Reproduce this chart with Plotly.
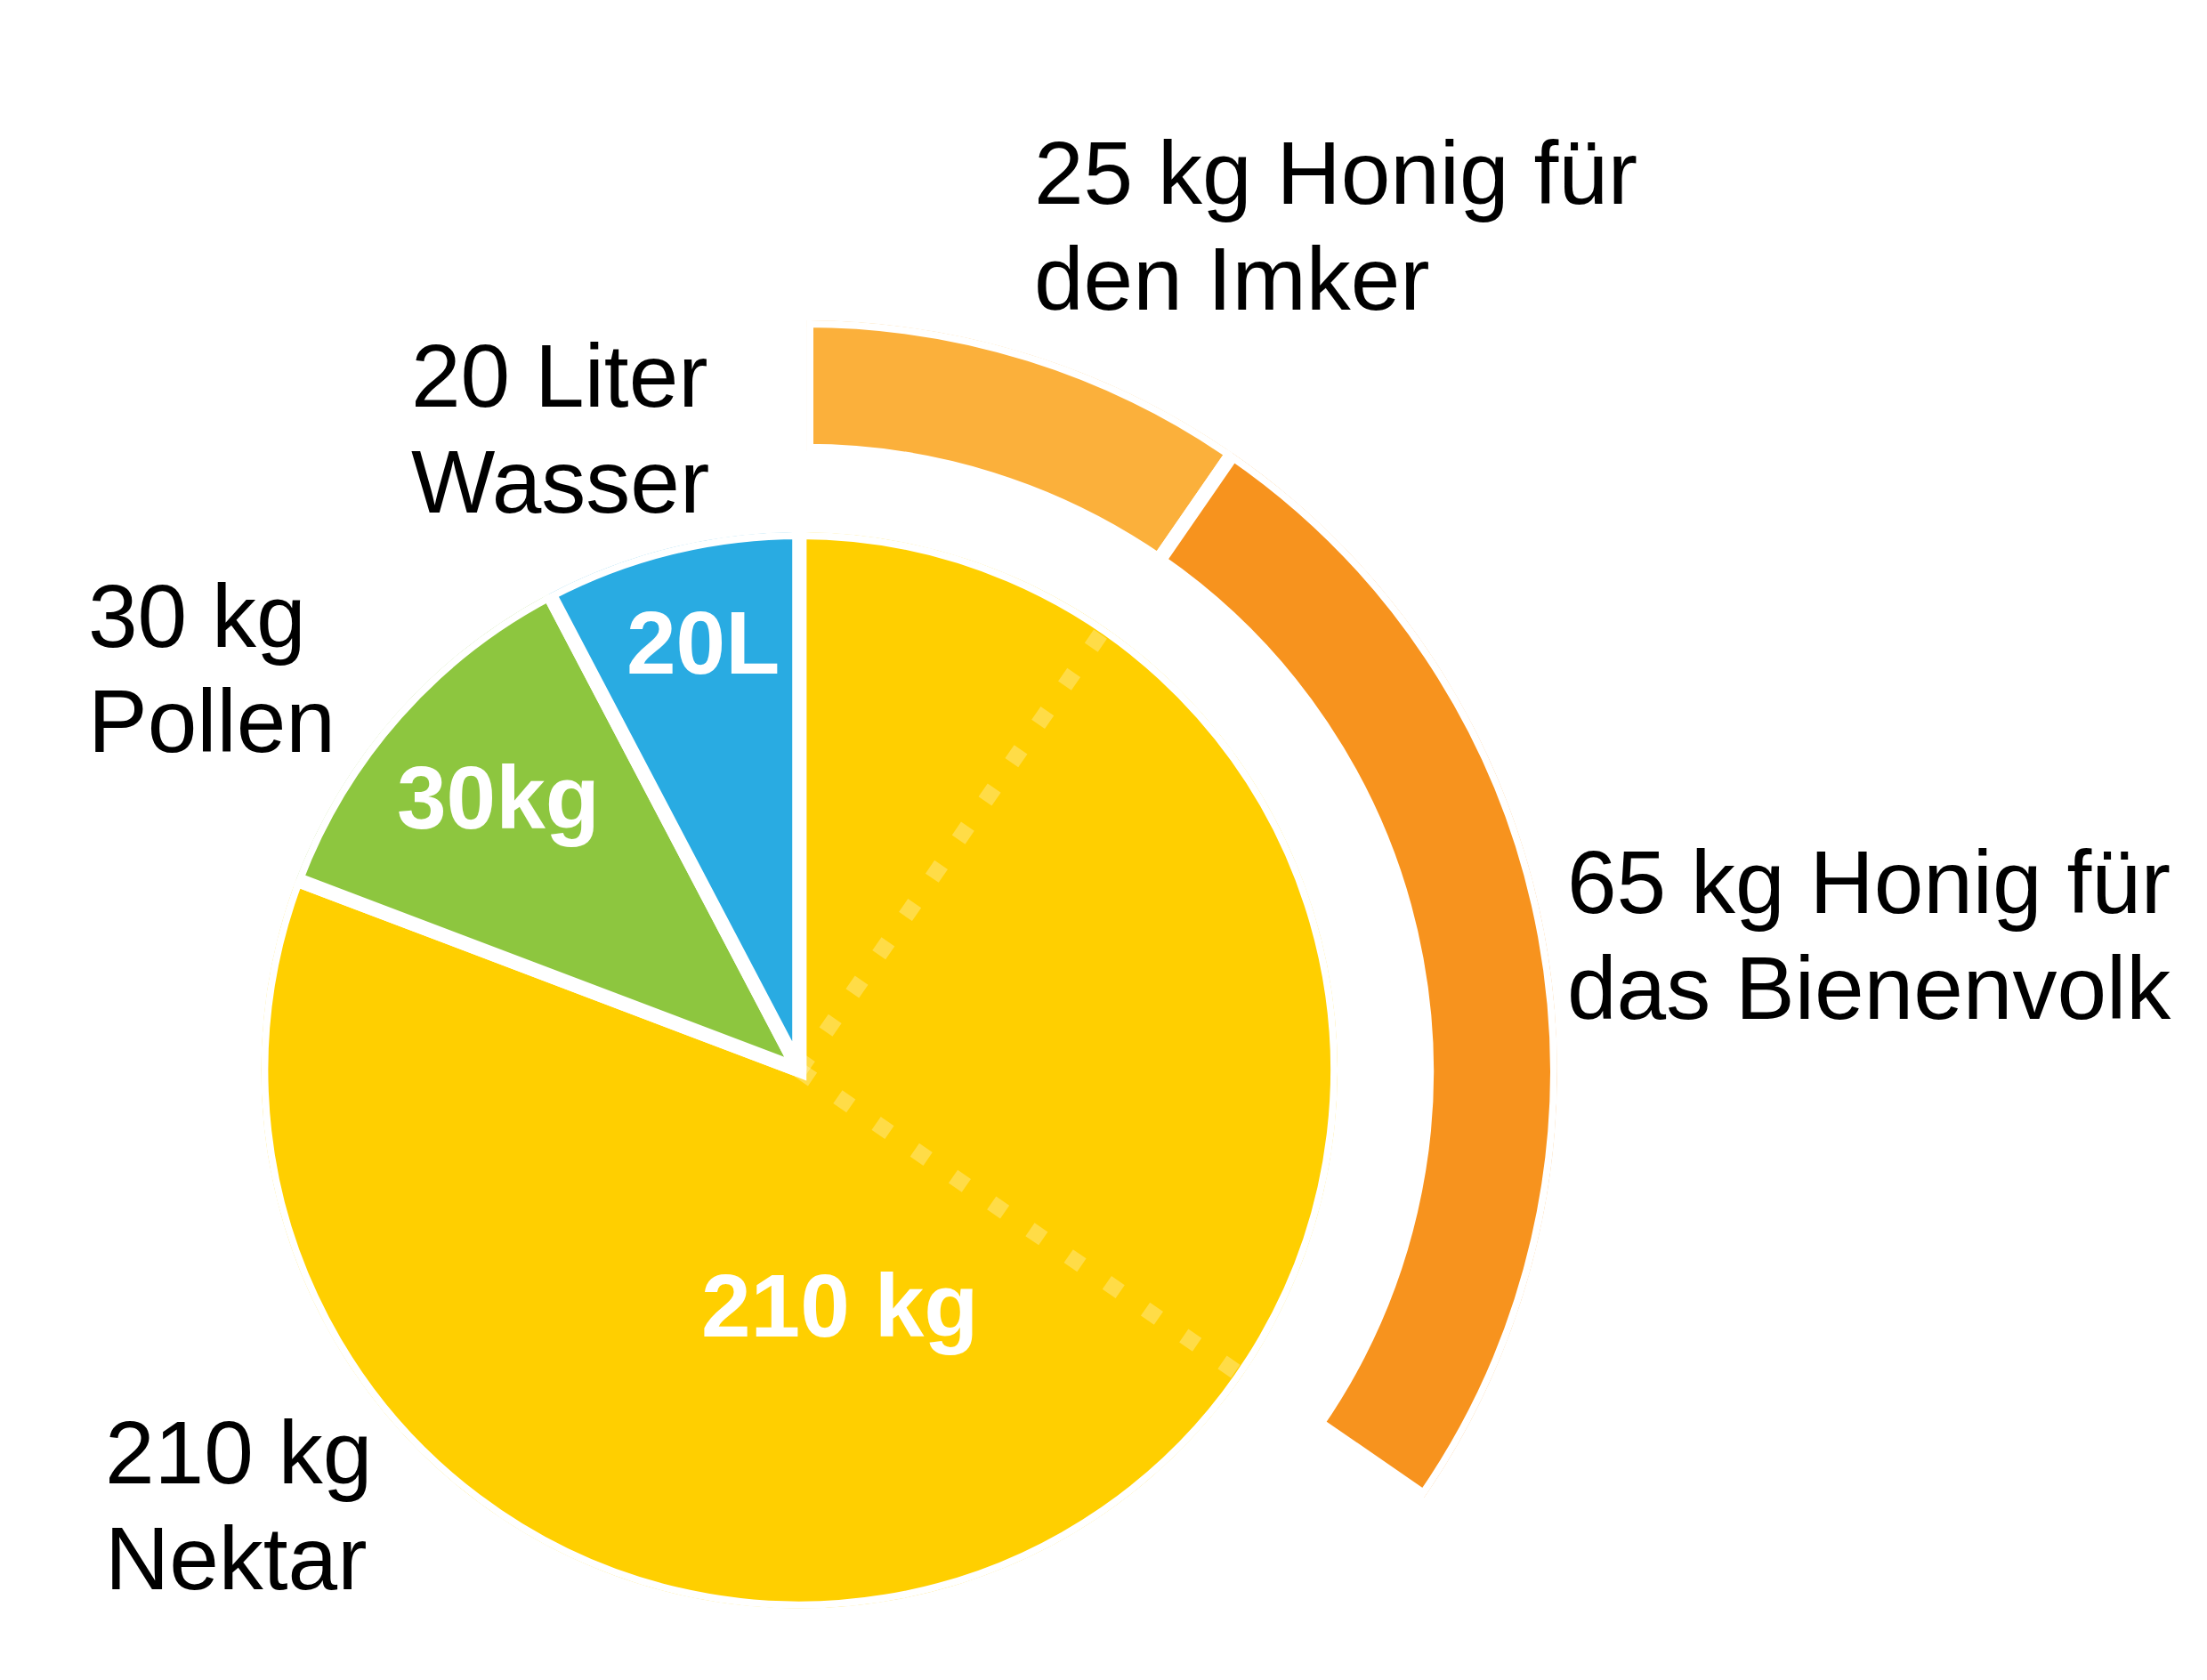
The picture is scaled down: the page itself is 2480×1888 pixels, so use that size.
import math
import plotly.graph_objects as go

# =========================
# DATA
# =========================
inputs = ["Nektar", "Pollen", "Wasser"]
input_values = [210, 30, 20]
input_short = ["210 kg", "30kg", "20L"]
input_labels = [["210 kg", "Nektar"], ["30 kg", "Pollen"], ["20 Liter", "Wasser"]]

honey = ["Imker", "Bienenvolk"]
honey_values = [25, 65]
honey_labels = [["25 kg Honig für", "den Imker"], ["65 kg Honig für", "das Bienenvolk"]]

# =========================
# STYLE / LAYOUT
# =========================
input_colors = ["#FFCF00", "#8DC63F", "#29ABE2"]
honey_colors = ["#FBB03B", "#F7931E"]
dot_color = "rgba(255,255,255,0.28)"
FONT = "Liberation Sans, Arial, sans-serif"
FS = 100

W, H = 2480, 1888          # page size in px
CX, CY = 896, 1205         # pie centre
RX, RY = 903, 1206         # ring centre
STROKE = 16
PIE_R = 610
RING_IN, RING_OUT = 703, 851
SECTOR_LOW = -40

# label anchors (left edge, first baseline) and inner label centres
outer_pos_inputs = [(109, 1673), (90, 724), (455, 452)]
outer_pos_honey = [(1159, 222), (1762, 1026)]
inner_pos = [(942, 1506), (556, 930), (787, 755)]
LINE_GAP = 120

total = sum(input_values)
deg = 360 / total


def spans(values):
    widths, centres, ends = [], [], []
    start = 0
    for v in values:
        w = v * deg
        widths.append(w)
        centres.append(start + w / 2)
        start += w
        ends.append(start)
    return widths, centres, ends


in_w, in_c, _ = spans(input_values)
ho_w, ho_c, ho_ends = spans(honey_values)

fig = go.Figure()

# inner pie
fig.add_trace(go.Barpolar(
    r=[PIE_R] * len(inputs), theta=in_c, width=in_w,
    marker=dict(color=input_colors, line=dict(color="white", width=STROKE)),
    name="Eintrag", hoverinfo="skip", subplot="polar",
))

# dotted guide lines inside the nectar slice
for a in ho_ends:
    fig.add_trace(go.Scatterpolar(
        r=[0, PIE_R - STROKE / 2], theta=[a, a], mode="lines",
        line=dict(color=dot_color, width=18, dash="18px,34.5px"),
        hoverinfo="skip", showlegend=False, subplot="polar",
    ))

# outer honey ring
fig.add_trace(go.Barpolar(
    r=[RING_OUT - RING_IN] * len(honey), base=[RING_IN] * len(honey),
    theta=ho_c, width=ho_w,
    marker=dict(color=honey_colors, line=dict(color="white", width=STROKE)),
    name="Honig", hoverinfo="skip", subplot="polar2",
))


def px(x, y):
    return x / W, 1 - y / H


ann = []
for lines, (x0, y0) in zip(input_labels + honey_labels, outer_pos_inputs + outer_pos_honey):
    for i, t in enumerate(lines):
        x, y = px(x0, y0 + i * LINE_GAP - 0.3465 * FS)
        ann.append(dict(text=t, x=x, y=y, xref="paper", yref="paper",
                        xanchor="left", yanchor="middle", showarrow=False,
                        font=dict(family=FONT, size=FS, color="black")))
for t, (x0, y0) in zip(input_short, inner_pos):
    x, y = px(x0, y0 - 0.3465 * FS)
    ann.append(dict(text=t, x=x, y=y, xref="paper", yref="paper",
                    xanchor="center", yanchor="middle", showarrow=False,
                    font=dict(family=FONT, size=FS, color="white", weight="bold")))

hidden_ang = dict(rotation=90, direction="clockwise", visible=False,
                  showgrid=False, showline=False, showticklabels=False, ticks="")

s = math.sin(math.radians(-SECTOR_LOW))
fig.update_layout(
    polar=dict(
        domain=dict(x=[(CX - PIE_R) / W, (CX + PIE_R) / W],
                    y=[1 - (CY + PIE_R) / H, 1 - (CY - PIE_R) / H]),
        radialaxis=dict(range=[0, PIE_R], visible=False),
        angularaxis=hidden_ang,
        bgcolor="rgba(0,0,0,0)",
    ),
    polar2=dict(
        domain=dict(x=[RX / W, (RX + RING_OUT) / W],
                    y=[1 - (RY + RING_OUT * s) / H, 1 - (RY - RING_OUT) / H]),
        sector=[SECTOR_LOW, 90],
        radialaxis=dict(range=[0, RING_OUT], visible=False),
        angularaxis=hidden_ang,
        bgcolor="rgba(0,0,0,0)",
    ),
    annotations=ann,
    showlegend=False,
    margin=dict(l=0, r=0, t=0, b=0),
    paper_bgcolor="white",
    plot_bgcolor="white",
)

fig.write_html("out.html")
